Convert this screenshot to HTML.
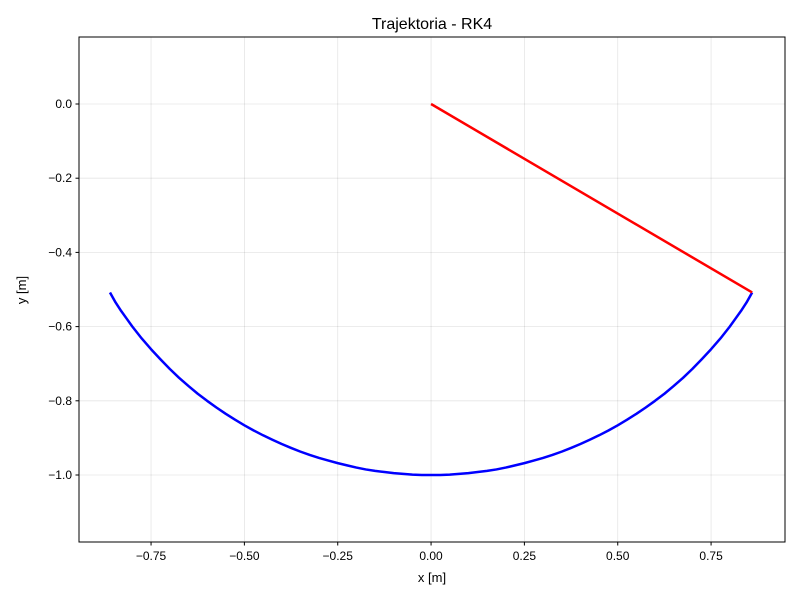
<!DOCTYPE html>
<html><head><meta charset="utf-8"><style>
body{margin:0;background:#fff}
svg text{font-family:"Liberation Sans","DejaVu Sans",sans-serif;fill:#000}
</style></head><body>
<svg id="chart" width="800" height="600" xmlns="http://www.w3.org/2000/svg">
<rect width="800" height="600" fill="#fff"/>
<g id="grid"></g>
<g id="series"></g>
<rect x="79" y="37" width="706" height="505" fill="none" stroke="#000" stroke-width="1"/>
<g id="ticks"></g>
<text x="432" y="29" font-size="16" text-anchor="middle">Trajektoria - RK4</text>
<text x="432" y="582" font-size="13" text-anchor="middle">x [m]</text>
<text x="26" y="290" font-size="13" text-anchor="middle" transform="rotate(-90 26 290)">y [m]</text>
</svg>
<script>
const xTicks=[-0.75,-0.5,-0.25,0,0.25,0.5,0.75];
const xTickLabels=["\u22120.75","\u22120.50","\u22120.25","0.00","0.25","0.50","0.75"];
const yTicks=[0,-0.2,-0.4,-0.6,-0.8,-1.0];
const yTickLabels=["0.0","\u22120.2","\u22120.4","\u22120.6","\u22120.8","\u22121.0"];
const arcX=[-0.86,-0.845,-0.83,-0.815,-0.8,-0.775,-0.75,-0.725,-0.7,-0.675,-0.65,-0.625,-0.6,-0.575,-0.55,-0.525,-0.5,-0.475,-0.45,-0.425,-0.4,-0.375,-0.35,-0.325,-0.3,-0.275,-0.25,-0.225,-0.2,-0.175,-0.15,-0.125,-0.1,-0.075,-0.05,-0.025,0,0.025,0.05,0.075,0.1,0.125,0.15,0.175,0.2,0.225,0.25,0.275,0.3,0.325,0.35,0.375,0.4,0.425,0.45,0.475,0.5,0.525,0.55,0.575,0.6,0.625,0.65,0.675,0.7,0.725,0.75,0.775,0.8,0.815,0.83,0.845,0.86];
const arcY=[-0.508,-0.535,-0.558,-0.579,-0.6,-0.632,-0.661,-0.688,-0.714,-0.738,-0.76,-0.781,-0.8,-0.818,-0.835,-0.851,-0.866,-0.88,-0.893,-0.905,-0.9165,-0.927,-0.937,-0.946,-0.954,-0.961,-0.968,-0.974,-0.98,-0.985,-0.989,-0.992,-0.995,-0.997,-0.999,-1,-1,-1,-0.999,-0.997,-0.995,-0.992,-0.989,-0.985,-0.98,-0.974,-0.968,-0.961,-0.954,-0.946,-0.937,-0.927,-0.9165,-0.905,-0.893,-0.88,-0.866,-0.851,-0.835,-0.818,-0.8,-0.781,-0.76,-0.738,-0.714,-0.688,-0.661,-0.632,-0.6,-0.579,-0.558,-0.535,-0.508];
const rodX=[0,0.86];
const rodY=[0,-0.508];
const NS="http://www.w3.org/2000/svg";
const X0=-0.943,X1=0.948,Y0=-1.1806,Y1=0.1806,L=79,R=785,T=37,B=542;
const sx=v=>L+(v-X0)/(X1-X0)*(R-L);
const sy=v=>B-(v-Y0)/(Y1-Y0)*(B-T);
function mk(tag,attrs,parent){const e=document.createElementNS(NS,tag);for(const k in attrs)e.setAttribute(k,attrs[k]);parent.appendChild(e);return e;}
const grid=document.getElementById('grid'),ticks=document.getElementById('ticks'),series=document.getElementById('series');
xTicks.forEach((v,i)=>{const x=sx(v);
 const g=mk('line',{x1:x,x2:x,y1:T,y2:B,stroke:'#000','stroke-opacity':0.1,'stroke-width':0.8},grid);
 
 const t=mk('line',{x1:x,x2:x,y1:B,y2:B+3.5,stroke:'#000'},ticks);
 
 const l=mk('text',{x:x,y:B+18,'font-size':12,'text-anchor':'middle'},ticks);l.textContent=xTickLabels[i];
 });
yTicks.forEach((v,i)=>{const y=sy(v);
 const g=mk('line',{x1:L,x2:R,y1:y,y2:y,stroke:'#000','stroke-opacity':0.1,'stroke-width':0.8},grid);
 
 const t=mk('line',{x1:L-3.5,x2:L,y1:y,y2:y,stroke:'#000'},ticks);
 
 const l=mk('text',{x:L-7,y:y+4,'font-size':12,'text-anchor':'end'},ticks);l.textContent=yTickLabels[i];
 });
const arc=mk('polyline',{points:arcX.map((v,i)=>sx(v)+','+sy(arcY[i])).join(' '),fill:'none',stroke:'#0000ff','stroke-width':2.5,'stroke-linejoin':'round'},series);

const rod=mk('polyline',{points:rodX.map((v,i)=>sx(v)+','+sy(rodY[i])).join(' '),fill:'none',stroke:'#ff0000','stroke-width':2.5},series);

</script>
</body></html>
